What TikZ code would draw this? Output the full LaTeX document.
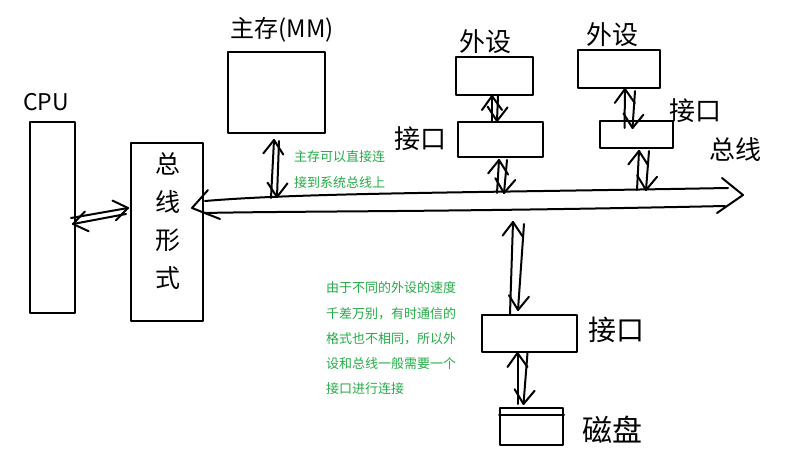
\documentclass[tikz,border=0pt]{standalone}
\usepackage{fontspec}
\setmainfont{Noto Sans CJK SC}
\usetikzlibrary{calc}
\definecolor{note}{RGB}{38,172,72}
\newcommand{\harr}[2]{%
  \coordinate (ha) at (#1);
  \coordinate (hz) at (#2);
  \coordinate (hb) at ($(hz)!14pt!(ha)$);
  \draw (ha) -- (hz);
  \draw ($(hb)!10pt!90:(hz)$) -- (hz) -- ($(hb)!10pt!-90:(hz)$);}
\begin{document}
\begin{tikzpicture}[x=1pt,y=-1pt, line width=2pt, line cap=round, line join=round,
  box/.style={draw, inner sep=0pt},
  hand/.style={inner sep=0pt, font=\fontsize{26}{30}\selectfont},
  notetext/.style={inner sep=0pt, text=note, align=left, anchor=north west}]
\useasboundingbox[fill=white] (0,0) rectangle (798,457);

% boxes
\node[box, minimum width=45pt, minimum height=191pt] (cpu) at (52.5,217.5) {};
\node[box, minimum width=72pt, minimum height=177pt] (conv) at (167,232) {};
\node[box, minimum width=97pt, minimum height=81pt] (mm) at (276.5,92.5) {};
\node[box, minimum width=77pt, minimum height=38pt] (p1) at (494,76) {};
\node[box, minimum width=85pt, minimum height=35pt] (i1) at (500,139.5) {};
\node[box, minimum width=82pt, minimum height=38pt] (p2) at (619,69) {};
\node[box, minimum width=73pt, minimum height=27pt] (i2) at (636.5,134.5) {};
\node[box, minimum width=95pt, minimum height=37pt] (i3) at (529.5,333.5) {};
\node[box, minimum width=63pt, minimum height=37pt] (disk) at (531.5,426.5) {};
\draw ([yshift=-8pt]disk.north west) -- ([yshift=-8pt]disk.north east);

% labels
\node[hand, font=\fontsize{23}{26}\selectfont] (cpul) at (46,102) {CPU};
\node[hand, align=center, font=\fontsize{25}{38}\selectfont] (convl) at (168,221) {总\\线\\形\\式};
\node[hand, font=\fontsize{24}{26}\selectfont] (mml) at (282,30) {主存(MM)};
\node[hand] (p1l) at (485,42) {外设};
\node[hand] (p2l) at (612,35) {外设};
\node[hand] (i1l) at (420,139) {接口};
\node[hand] (i2l) at (695,111) {接口};
\node[hand] (busl) at (735,150) {总线};
\node[hand, font=\fontsize{28}{30}\selectfont] (i3l) at (616,330) {接口};
\node[hand, font=\fontsize{30}{32}\selectfont] (diskl) at (612,430) {磁盘};

% notes
\node[notetext, font=\fontsize{13}{26}\selectfont] (n1) at (293,150) {主存可以直接连\\接到系统总线上};
\node[notetext, font=\fontsize{13}{25.2}\selectfont] (n2) at (325,281) {由于不同的外设的速度\\千差万别，有时通信的\\格式也不相同，所以外\\设和总线一般需要一个\\接口进行连接};

% bus
\coordinate (btl) at (205,201);
\coordinate (btr) at (728,188);
\coordinate (bbl) at (204,213);
\coordinate (bbr) at (725,206);
\coordinate (tipl) at (192,208);
\coordinate (tipr) at (743,195);
\draw (btl) .. controls (300,193) and (450,193) .. (btr);
\draw (bbl) .. controls (300,211) and (450,212) .. (bbr);
\draw (208,190) -- (tipl) -- (220,219);
\draw (722,178) -- (tipr) -- (717,213);

% bus attachment points
\coordinate (bmm) at (275,198);
\coordinate (bi1) at (502,193);
\coordinate (bi2) at (643,190);
\coordinate (bi3) at (516,210);

% arrows
\harr{[xshift=-5pt]cpu.east |- 0,218}{128,208}
\harr{126,214}{[xshift=-3pt]cpu.east |- 0,224}

\harr{$(bmm)+(-4,0)$}{$(mm.south -| bmm)+(-1,6)$}
\harr{$(mm.south -| bmm)+(4,7)$}{$(bmm)+(2,-1)$}

\harr{$(i1.north)+(-8,0)$}{$(p1.south)+(-2,0)$}
\harr{$(p1.south)+(4,0)$}{$(i1.north)+(-3,0)$}

\harr{$(bi1)+(-5,0)$}{$(i1.south -| bi1)+(-3,2)$}
\harr{$(i1.south -| bi1)+(5,2)$}{$(bi1)+(2,0)$}

\harr{$(i2.north)+(-12,8)$}{$(p2.south)+(6,0)$}
\harr{$(p2.south)+(16,2)$}{$(i2.north)+(-4,8)$}

\harr{$(bi2)+(-6,0)$}{$(i2.south -| bi2)+(-4,2)$}
\harr{$(i2.south -| bi2)+(6,2)$}{$(bi2)+(3,0)$}

\harr{$(i3.north -| bi3)+(-6,0)$}{$(bi3)+(-3,12)$}
\harr{$(bi3)+(8,14)$}{$(i3.north -| bi3)+(2,-4)$}

\harr{$(disk.north)+(-14,-3)$}{$(i3.south)+(-12,0)$}
\harr{$(i3.south)+(-2,0)$}{$(disk.north)+(-8,-3)$}
\end{tikzpicture}
\end{document}
